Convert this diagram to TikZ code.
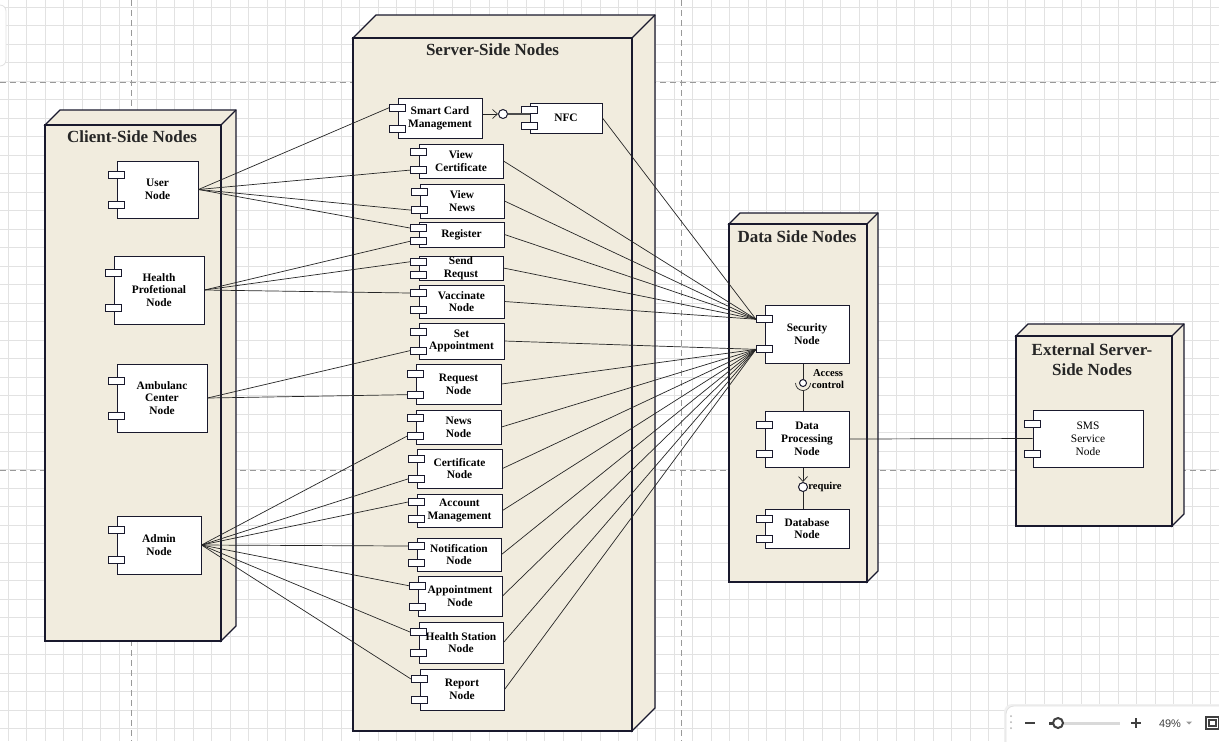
\documentclass[tikz,border=0pt]{standalone}
\usepackage{fontspec}
\setmainfont{Liberation Serif}
\newfontfamily\uifont{Liberation Sans}
\usetikzlibrary{calc,arrows.meta}

\definecolor{nodebeige}{RGB}{241,236,222}
\definecolor{edgenavy}{RGB}{25,25,45}
\definecolor{gridgray}{RGB}{226,226,226}

% 3d deployment node: front corners and depth
\newcommand{\umlcube}[5]{%
  \filldraw[cube-face] (#1,#2) -- ++(#5,-#5) -- ({#3+#5},{#2-#5}) -- ({#3+#5},{#4-#5}) -- (#3,#4) -- (#3,#2) -- cycle;
  \filldraw[cube-face] (#1,#2) rectangle (#3,#4);
  \draw[cube-face] (#3,#2) -- ++(#5,-#5);
}
% component with its two ports
\newcommand{\umlcomp}[7][]{%
  \node[comp, #1, minimum width={(#5-#3)*0.5pt}, minimum height={(#6-#4)*0.5pt}] (#2) at ({(#3+#5)/2},{(#4+#6)/2}) {#7};
  \node[port] (#2-a) at ($(#2.north west)!0.25!(#2.south west)$) {};
  \node[port] (#2-b) at ($(#2.north west)!0.76!(#2.south west)$) {};
}

\begin{document}
\begin{tikzpicture}[x=0.5pt, y=-0.5pt,
grid-line/.style = {draw=gridgray, line width=0.4pt},
page-line/.style = {draw=black!40, dash pattern=on 3pt off 2pt, line width=0.4pt},
cube-face/.style = {draw=edgenavy, fill=nodebeige, line width=0.6pt, line join=miter},
title/.style = {font=\fontsize{8.5}{10}\selectfont\bfseries, text=black!85, align=center, inner sep=0pt},
comp/.style = {draw=edgenavy, fill=white, line width=0.5pt, inner sep=0pt, align=center,
  font=\fontsize{5.7}{6.4}\selectfont\bfseries},
port/.style = {draw=edgenavy, fill=white, line width=0.5pt, inner sep=0pt,
  minimum width=8pt, minimum height=3.5pt},
ball/.style = {circle, draw=edgenavy, fill=white, line width=0.5pt, inner sep=0pt, minimum size=4.5pt},
lbl/.style = {font=\fontsize{5.3}{6}\selectfont\bfseries, inner sep=1pt, align=center},
link/.style = {draw=black!85, line width=0.35pt},
dep/.style = {link, -{Straight Barb[length=2.5pt,width=4.5pt]}}
]
\useasboundingbox (0,0) rectangle (1219,741);
\clip (0,0) rectangle (1219,741);
\fill[white] (0,0) rectangle (1219,741);

% background grid
\foreach \gx in {8.2,26.7,...,1220} \draw[grid-line] (\gx,0) -- (\gx,741);
\foreach \gy in {7.3,25.8,...,742} \draw[grid-line] (0,\gy) -- (1219,\gy);
\draw[page-line] (131.5,0) -- (131.5,741) (681,0) -- (681,741);
\draw[page-line] (0,82) -- (1219,82) (0,470) -- (1219,470);
\draw[black!12, fill=white, rounded corners=3pt] (-10,5) rectangle (6,66);

% deployment nodes
\umlcube{45}{125}{221}{641}{15}
\umlcube{353}{38}{632}{731}{23}
\umlcube{729}{224}{867}{582}{11}
\umlcube{1016}{336}{1172}{526}{12}
\node[title] (client-title) at (132,137) {Client-Side Nodes};
\node[title] (server-title) at (492.5,50) {Server-Side Nodes};
\node[title] (data-title) at (797,237) {Data Side Nodes};
\node[title] (ext-title) at (1092,360) {External Server-\\Side Nodes};

% client side
\umlcomp{user}{117}{161}{198}{218}{User\\Node}
\umlcomp{health}{114}{256}{204}{324}{Health\\Profetional\\Node}
\umlcomp{amb}{117}{364}{207}{432}{Ambulanc\\Center\\Node}
\umlcomp{admin}{117}{516}{201}{574}{Admin\\Node}

% server side
\umlcomp{scm}{398}{98}{482}{138}{Smart Card\\Management}
\umlcomp{nfc}{530}{103}{602}{133}{NFC}
\umlcomp{vcert}{419}{144}{503}{178}{View\\Certificate}
\umlcomp{vnews}{420}{184}{504}{218}{View\\News}
\umlcomp{reg}{419}{222}{504}{247}{Register}
\umlcomp{sendreq}{419}{256}{503}{280}{Send\\Requst}
\umlcomp{vacc}{419}{285}{504}{318}{Vaccinate\\Node}
\umlcomp{setapp}{419}{323}{504}{359}{Set\\Appointment}
\umlcomp{reqnode}{416}{364}{501}{404}{Request\\Node}
\umlcomp{news}{416}{410}{501}{444}{News\\Node}
\umlcomp{cert}{417}{449}{502}{488}{Certificate\\Node}
\umlcomp{acc}{417}{494}{502}{527}{Account\\Management}
\umlcomp{notif}{417}{538}{501}{571}{Notification\\Node}
\umlcomp{appt}{418}{576}{502}{616}{Appointment\\Node}
\umlcomp{hstation}{419}{622}{503}{663}{Health Station\\Node}
\umlcomp{report}{420}{669}{504}{710}{Report\\Node}

% data side
\umlcomp{sec}{765}{305}{849}{363}{Security\\Node}
\umlcomp{dp}{765}{411}{849}{467}{Data\\Processing\\Node}
\umlcomp{db}{765}{509}{849}{548}{Database\\Node}

% external
\umlcomp[font=\fontsize{5.7}{6.4}\selectfont]{sms}{1033}{410}{1143}{467}{SMS\\Service\\Node}

% interfaces
\node[ball] (nfc-ball) at (503,114) {};
\draw[dep] (scm.east |- nfc-ball) -- (nfc-ball.west);
\draw[link, line width=0.6pt, draw=black!70] (nfc-ball.east) -- (nfc.west |- nfc-ball);

\node[ball, minimum size=3.5pt] (ac-ball) at (803,383) {};
\coordinate (ac-sock) at (803,390.5);
\draw[link] (ac-ball |- sec.south) -- (ac-ball.north);
\draw[link] (ac-ball |- dp.north) -- (ac-sock);
\draw[link] ($(ac-ball)+(-7.5,0)$) arc[start angle=180, end angle=0, radius=7.5];
\node[lbl] (ac-label) at (828,379) {Access\\control};

\node[ball] (req-ball) at (803,487) {};
\draw[dep] (req-ball |- dp.south) -- (req-ball.north);
\draw[link] (req-ball.south) -- (req-ball |- db.north);
\node[lbl, anchor=west, inner sep=0pt] (req-label) at (req-ball.east) {require};

% client to server
\foreach \s/\t in {user/scm-a, user/vcert-b, user/vnews-b, user/reg-a,
  health/reg-b, health/sendreq-a, health/vacc-a, amb/setapp-b, amb/reqnode-b,
  admin/news-b, admin/cert-b, admin/acc-a, admin/notif-a, admin/appt-a,
  admin/hstation-a, admin/report-a}
  \draw[link] (\s.east) -- (\t.west);

% server to data
\foreach \s in {nfc, vcert, vnews, reg, sendreq, vacc}
  \draw[link] (\s.east) -- (sec-a.west);
\foreach \s in {setapp, reqnode, news, cert, acc, notif, appt, hstation, report}
  \draw[link] (\s.east) -- (sec-b.west);
\draw[link] (dp.east) -- (sms.west);

% zoom bar
\fill[black!6, rounded corners=4pt] (1004,704) rectangle (1240,760);
\filldraw[fill=white, draw=black!12, rounded corners=4pt] (1006,706) rectangle (1238,758);
\foreach \dy in {716,722,728} \fill[black!30] (1011,\dy) circle[radius=1];
\draw[black!75, line width=0.6pt] (1025,723) -- (1035,723);
\draw[black!15, line width=1.5pt] (1058,723) -- (1120,723);
\draw[black!75, line width=1.5pt] (1049,723) -- (1058,723);
\filldraw[draw=black!75, fill=white, line width=1pt] (1058,723) circle[radius=5];
\draw[black!75, line width=0.6pt] (1131,723) -- (1141,723) (1136,718) -- (1136,728);
\node[font=\uifont\fontsize{5.5}{6}\selectfont, text=black!75, inner sep=0pt] (zoom-level) at (1170,723.5) {49\%};
\fill[black!40] (1186,721.5) -- (1192,721.5) -- (1189,724.5) -- cycle;
\draw[black!75, line width=0.6pt] (1206,717) rectangle (1219,729);
\draw[black!75, line width=0.6pt] (1209,720) rectangle (1216,726);
\end{tikzpicture}
\end{document}
